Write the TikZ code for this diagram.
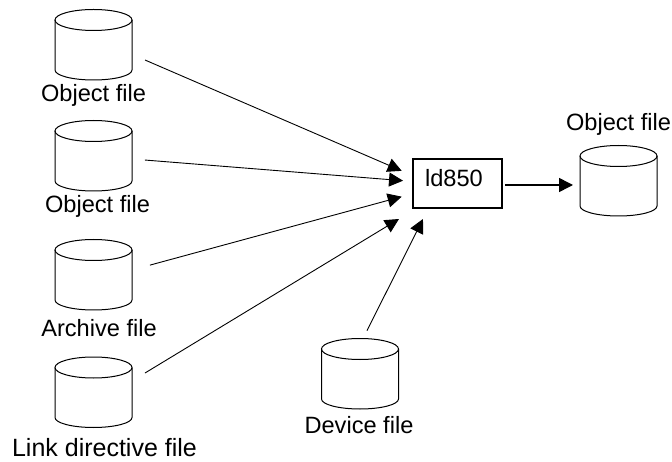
\documentclass[tikz,border=0pt]{standalone}
\usepackage{fontspec}
\setmainfont{Liberation Sans}
\usetikzlibrary{arrows.meta}
\tikzset{
    disk/.style={minimum width=77pt,minimum height=70pt,inner sep=0pt,outer sep=0pt},
    disk line/.style={line width=1pt},
    label text/.style={anchor=base,inner sep=0pt,font=\fontsize{23.6pt}{26pt}\selectfont},
    link/.style={draw,line width=0.9pt,-{Triangle[length=14pt,width=14pt]}}
}
\newcommand{\diskoutline}[1]{
    \draw[disk line] ([yshift=-10pt]#1.north) ellipse [x radius=38.5pt,y radius=10.5pt];
    \draw[disk line] ([yshift=-10pt]#1.north west) -- ([yshift=10pt]#1.south west)
        arc[start angle=180,end angle=360,x radius=38.5pt,y radius=10pt] -- ([yshift=-10pt]#1.north east);
}
\begin{document}
\begin{tikzpicture}[x=1pt,y=-1pt]
            \useasboundingbox (0,0) rectangle (672,462);

            \node[disk] (obj1) at (93.5,45) {};
            \node[disk] (obj2) at (93.5,156) {};
            \node[disk] (arch) at (93.5,275) {};
            \node[disk] (link) at (93.5,392.5) {};
            \node[disk] (dev) at (360,374) {};
            \node[disk] (out) at (618.5,181) {};

            \diskoutline{obj1}
            \diskoutline{obj2}
            \diskoutline{arch}
            \diskoutline{link}
            \diskoutline{dev}
            \diskoutline{out}

            \node[draw,line width=1.5pt,minimum width=89pt,minimum height=49pt,inner sep=0pt,outer sep=0pt,text height=17pt,text depth=10pt,font=\fontsize{23.6pt}{26pt}\selectfont] (ld) at (457.5,183.5) {ld850\kern7pt};

            \node[label text] (obj1text) at (93.5,101.7) {Object file};
            \node[label text] (obj2text) at (97.5,213) {Object file};
            \node[label text] (archtext) at (99,336.7) {Archive file};
            \node[label text,font=\fontsize{25pt}{27pt}\selectfont] (linktext) at (104.5,456.7) {Link directive file};
            \node[label text] (devtext) at (359,433) {Device file};
            \node[label text] (outtext) at (618.5,130.7) {Object file};

            \path[link,shorten <=14.2pt,shorten >=12.3pt] ([yshift=-9.4pt]obj1.east) -- ([yshift=7.8pt]ld.west);
            \path[link,shorten <=13pt,shorten >=10pt] ([yshift=-3pt]obj2.east) -- ([yshift=2pt]ld.west);
            \path[link,shorten <=18.6pt,shorten >=11.7pt] ([yshift=5pt]arch.east) -- ([yshift=-10.1pt]ld.west);
            \path[link,shorten <=15.2pt,shorten >=16.4pt] ([yshift=11.6pt]link.east) -- ([yshift=-2.5pt]ld.south west);
            \path[link,shorten <=9.3pt,shorten >=12.3pt] ([xshift=2.8pt]dev.north) -- ([xshift=15.5pt]ld.south west);
            \path[link,line width=1.5pt,shorten <=3pt,shorten >=7pt] ([yshift=-1.5pt]ld.east) -- ([yshift=-4pt]out.west);
\end{tikzpicture}
\end{document}
